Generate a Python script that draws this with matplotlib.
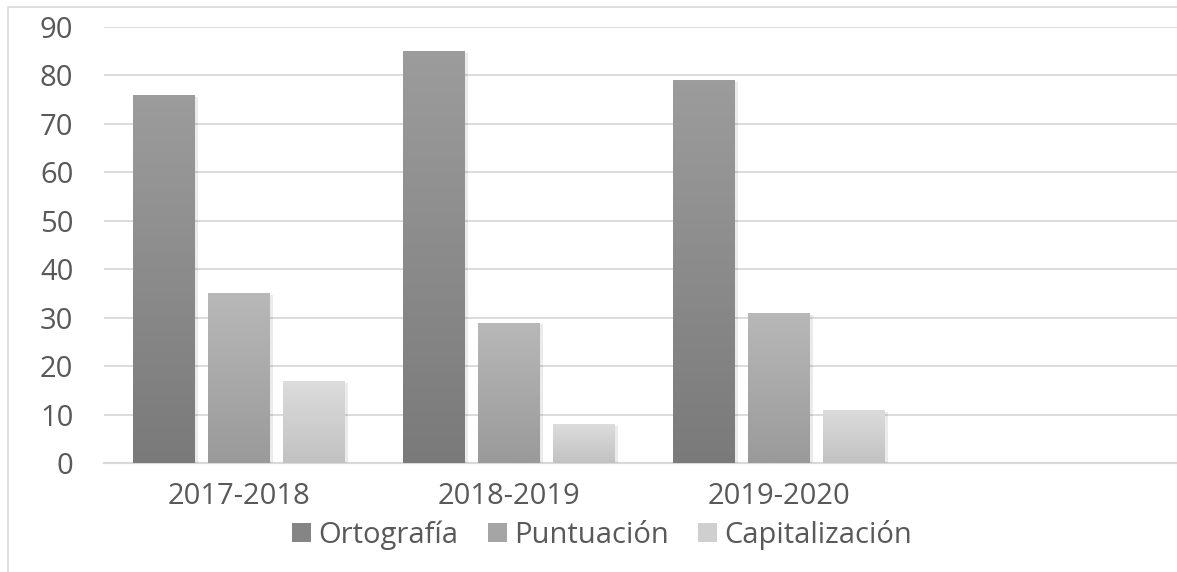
import numpy as np
import matplotlib.pyplot as plt
from matplotlib.patches import Rectangle
from matplotlib.colors import LinearSegmentedColormap

# Data
categories = ["2017-2018", "2018-2019", "2019-2020", ""]
series_names = ["Ortografía", "Puntuación", "Capitalización"]
ortografia = [76, 85, 79, 0]
puntuacion = [35, 29, 31, 0]
capitalizacion = [17, 8, 11, 0]

values = [ortografia, puntuacion, capitalizacion]
# gradient (top, bottom) per series
grad = [("#9c9c9c", "#7a7a7a"), ("#b8b8b8", "#9a9a9a"), ("#dcdcdc", "#c2c2c2")]
solid = ["#858585", "#a5a5a5", "#cfcfcf"]

plt.rcParams['font.family'] = ['Open Sans', 'DejaVu Sans']
text_col = "#595959"
fs = 21

fig = plt.figure(figsize=(11.77, 5.72), dpi=100)
# plot area runs off the right edge (the source image is cropped)
ax = fig.add_axes([104 / 1177, (572 - 463) / 572, 1080 / 1177, 436 / 572])

# outer chart border (left and top visible)
fig.patches.append(Rectangle((8 / 1177, -0.1), 1.2, (572 - 7) / 572 + 0.1,
                             transform=fig.transFigure, fill=False,
                             edgecolor="#d9d9d9", linewidth=1.2))

x = np.arange(len(categories))
bw = 62 / 270
step = 75 / 270

for i, (vals, name) in enumerate(zip(values, series_names)):
    bars = ax.bar(x + (i - 1) * step, vals, width=bw, color=solid[i],
                  label=name, zorder=3)
    cmap = LinearSegmentedColormap.from_list("g%d" % i, [grad[i][1], grad[i][0]])
    for b in bars:
        if b.get_height() <= 0:
            continue
        img = ax.imshow(np.linspace(0, 1, 64).reshape(-1, 1), cmap=cmap,
                        origin="lower", aspect="auto",
                        extent=[b.get_x(), b.get_x() + b.get_width(), 0, b.get_height()],
                        zorder=3.5)
        img.set_clip_path(b)
        # faint shadow on right
        ax.add_patch(Rectangle((b.get_x() + b.get_width(), 0), 0.012, b.get_height() - 0.4,
                               facecolor="#000000", alpha=0.08, linewidth=0, zorder=2.9))

ax.set_xlim(-0.5, 3.5)
ax.set_ylim(0, 90)
ax.set_yticks(range(0, 91, 10))
ax.set_xticks(x[:3])
ax.set_xticklabels(categories[:3])
ax.grid(axis="y", color="#d9d9d9", linewidth=1.3, zorder=0)
ax.set_axisbelow(True)
for s in ["top", "right", "left"]:
    ax.spines[s].set_visible(False)
ax.spines["bottom"].set_color("#d9d9d9")
ax.spines["bottom"].set_linewidth(1.6)
ax.tick_params(axis="both", length=0, labelsize=fs, colors=text_col)
ax.tick_params(axis="y", pad=22)
ax.tick_params(axis="x", pad=14)

ax.legend(loc="center", bbox_to_anchor=(498 / 1080, -0.165), ncol=3, frameon=False,
          fontsize=fs, labelcolor=text_col, handlelength=0.65, handleheight=0.65,
          handletextpad=0.25, columnspacing=1.0, borderaxespad=0, borderpad=0)

fig.savefig("out.png", dpi=100)
